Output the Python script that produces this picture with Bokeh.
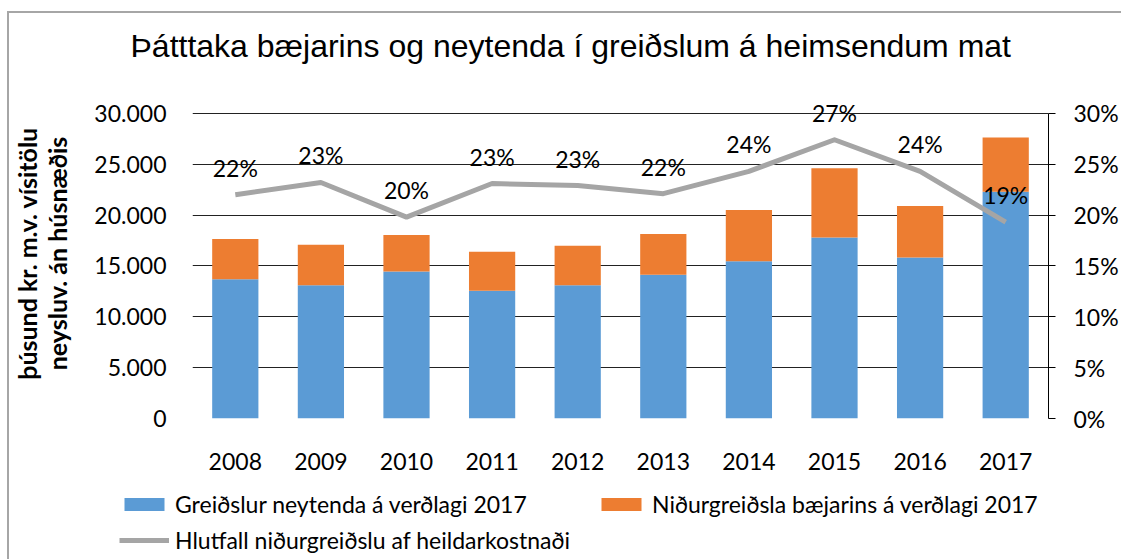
from bokeh.plotting import figure
from bokeh.layouts import column
from bokeh.models import (ColumnDataSource, FactorRange, Range1d, LinearAxis, FixedTicker,
                          CustomJSTickFormatter, Legend, LegendItem)
from bokeh.core.properties import value
from bokeh.embed import file_html
from bokeh.resources import INLINE

years = ["2008", "2009", "2010", "2011", "2012", "2013", "2014", "2015", "2016", "2017"]
neytendur = [13700, 13090, 14460, 12570, 13090, 14140, 15470, 17790, 15830, 22280]
baerinn = [3950, 3980, 3590, 3810, 3880, 4000, 5020, 6800, 5050, 5340]
hlutfall = [22.0, 23.2, 19.8, 23.1, 22.9, 22.1, 24.3, 27.4, 24.3, 19.3]
left_ticks = [0, 5000, 10000, 15000, 20000, 25000, 30000]
right_ticks = [0, 5, 10, 15, 20, 25, 30]

title_text = "Þátttaka bæjarins og neytenda í greiðslum á heimsendum mat"
ylabel = "þúsund kr. m.v. vísitölu\nneysluv. án húsnæðis"
legend_names = ["Greiðslur neytenda á verðlagi 2017",
                "Niðurgreiðsla bæjarins á verðlagi 2017",
                "Hlutfall niðurgreiðslu af heildarkostnaði"]

BLUE = "#5B9BD5"
ORANGE = "#ED7D31"
GRAY = "#A5A5A5"
FRAME_GRAY = "#A6A6A6"
FONT = "Lato"

W = 1121
H_MAIN = 483
H_LEG = 76
TOP_K = 32.44  # visible top of the value range, in thousands / percent

src = ColumnDataSource(dict(
    year=years, neyt=neytendur, baer=baerinn, pct=hlutfall,
    lbl=[f"{round(v)}%" for v in hlutfall],
))

p = figure(width=W, height=H_MAIN, output_backend="svg", toolbar_location=None,
           x_range=FactorRange(*years, range_padding=0),
           y_range=Range1d(0, TOP_K * 1000),
           min_border_left=192, min_border_right=73, min_border_top=86, min_border_bottom=65)
p.extra_y_ranges = {"pct": Range1d(0, TOP_K)}

bars = p.vbar_stack(["neyt", "baer"], x="year", width=0.54, color=[BLUE, ORANGE],
                    line_color=None, source=src)
line = p.line(x="year", y="pct", y_range_name="pct", line_width=5, line_color=GRAY,
              line_join="round", source=src)
p.text(x="year", y="pct", text="lbl", y_range_name="pct", source=src, y_offset=-27,
       text_align="center", text_baseline="middle", text_font=value(FONT),
       text_font_size="23px", text_color="black")

# title
p.title.text = title_text
p.title.text_font = "Liberation Sans"
p.title.text_font_size = "32px"
p.title.text_font_style = "normal"
p.title.text_color = "black"
p.title.align = "left"
p.title.offset = -62
p.title.standoff = 50

# left axis
ya = p.yaxis[0]
ya.ticker = FixedTicker(ticks=left_ticks)
ya.formatter = CustomJSTickFormatter(code='return tick.toFixed(0).replace(/\\B(?=(\\d{3})+(?!\\d))/g, ".");')
ya.axis_line_color = None
ya.major_tick_line_color = None
ya.minor_tick_line_color = None
ya.major_tick_out = 0
ya.major_label_standoff = 26
ya.major_label_text_font = FONT
ya.major_label_text_font_size = "23px"
ya.major_label_text_color = "black"
ya.axis_label = ylabel
ya.axis_label_text_font = FONT
ya.axis_label_text_font_size = "25px"
ya.axis_label_text_font_style = "bold"
ya.axis_label_text_color = "black"
ya.axis_label_text_line_height = 1.0
ya.axis_label_standoff = 19

# right axis
ra = LinearAxis(y_range_name="pct", ticker=FixedTicker(ticks=right_ticks),
                formatter=CustomJSTickFormatter(code='return tick.toFixed(0) + "%";'),
                bounds=(0, 30))
ra.axis_line_color = "black"
ra.axis_line_width = 1
ra.major_tick_line_color = "black"
ra.major_tick_in = 0
ra.major_tick_out = 7
ra.minor_tick_line_color = None
ra.major_label_standoff = 18
ra.major_label_text_font = FONT
ra.major_label_text_font_size = "23px"
ra.major_label_text_color = "black"
ra.major_label_text_align = "left"
p.add_layout(ra, "right")

# x axis
xa = p.xaxis[0]
xa.axis_line_color = None
xa.major_tick_line_color = None
xa.minor_tick_line_color = None
xa.major_tick_out = 0
xa.major_label_standoff = 34
xa.major_label_text_font = FONT
xa.major_label_text_font_size = "23px"
xa.major_label_text_color = "black"

# grid
p.xgrid.grid_line_color = None
p.ygrid.ticker = FixedTicker(ticks=left_ticks)
p.ygrid.grid_line_color = "#222222"
p.ygrid.grid_line_width = 1
p.outline_line_color = None
p.background_fill_color = "white"
p.border_fill_color = None
p.frame_align = False

# legend strip (a second canvas below the chart; zero-size proxies carry the series styles)
q = figure(width=W, height=H_LEG, output_backend="svg", toolbar_location=None,
           x_axis_type=None, y_axis_type=None,
           min_border_left=0, min_border_right=0, min_border_top=0, min_border_bottom=0)
q.frame_align = False
q.xgrid.grid_line_color = None
q.ygrid.grid_line_color = None
q.outline_line_color = None
q.background_fill_color = None
q.border_fill_color = None
lb = q.vbar(x=[0], top=[0], width=0, color=BLUE, line_color=None)
lo = q.vbar(x=[0], top=[0], width=0, color=ORANGE, line_color=None)
lg = q.line(x=[0], y=[0], line_width=5, line_color=GRAY)

legend = Legend(items=[
    LegendItem(label=legend_names[0], renderers=[lb]),
    LegendItem(label=legend_names[1], renderers=[lo]),
    LegendItem(label=legend_names[2], renderers=[lg]),
], orientation="horizontal", ncols=2, location=(119, 5))
legend.glyph_width = 50
legend.glyph_height = 16
legend.label_standoff = 6
legend.label_width = 413
legend.spacing = 8
legend.padding = 0
legend.margin = 0
legend.border_line_color = None
legend.background_fill_alpha = 0
legend.label_text_font = FONT
legend.label_text_font_size = "23px"
legend.label_text_color = "black"
q.add_layout(legend, "center")

layout = column(p, q, spacing=0)
layout.styles = {
    "background": (f"linear-gradient({FRAME_GRAY},{FRAME_GRAY}) 7px 11px / 2px 100% no-repeat, "
                   f"linear-gradient({FRAME_GRAY},{FRAME_GRAY}) 7px 11px / 100% 2px no-repeat, white"),
}

open("out.html", "w").write(file_html(layout, INLINE))
